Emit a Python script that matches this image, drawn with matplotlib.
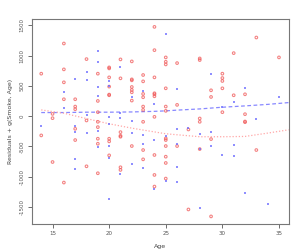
import numpy as np
import matplotlib.pyplot as plt

# 部分残差 (赤: 丸, 青: 点)
red_age = [14, 14, 15, 15, 15, 16, 16, 16, 16, 16, 17, 17, 17, 17, 17, 18, 18, 18,
           19, 19, 19, 19, 19, 19, 19, 19, 20, 20, 20, 20, 20, 20, 20, 20, 20,
           21, 21, 21, 21, 21, 21, 21, 22, 22, 22, 22, 22, 22, 22, 22,
           23, 23, 23, 23, 23, 23, 23, 23, 23,
           24, 24, 24, 24, 24, 24, 24, 24, 24, 24,
           25, 25, 25, 25, 25, 25, 25, 25, 25, 25, 25, 25,
           26, 26, 26, 27, 27, 28, 28, 28, 28, 28, 29, 29, 29, 29,
           30, 30, 30, 30, 30, 31, 31, 32, 32, 32, 32, 33, 33, 35]
red_res = [703, -318, 38, -33, -758, 1202, 774, 560, 280, -1098, 280, 159, 115, -209, -395,
           944, -71, -829,
           703, 252, 66, -93, -181, -373, -456, -944,
           807, 790, 642, 489, 357, 346, -373, -417, -648,
           939, 626, -264, -324, -340, -845, -889,
           906, 609, 593, 483, 434, 395, 258, -494,
           681, 576, 368, 313, 159, 104, -93, -560, -714,
           1477, 1092, 642, 379, 362, 329, -11, -642, -972, -1164,
           972, 900, 856, 461, 159, 88, -368, -395, -494, -670, -774, -1032,
           878, 187, -494, -220, -1543, 955, 928, -38, -93, -544, 428, 318, -379, -1658,
           703, 631, 582, 461, 66, 1043, 346, 362, 33, -88, -99, 1301, -560, 972]

blue_age = [14, 16, 16, 17, 17, 17, 17, 17, 18, 18, 18, 18,
            19, 19, 19, 19, 19, 19, 20, 20, 20, 20, 20, 20, 20,
            21, 21, 21, 21, 22, 22, 22, 22, 23, 23, 23, 23, 24, 24, 24,
            25, 25, 25, 26, 26, 26, 26, 26, 27, 28, 28, 28, 29, 29, 29,
            30, 30, 31, 31, 31, 32, 32, 33, 34, 35]
blue_res = [-159, 401, 132, 615, -165, -264, -703, -873, 736, 598, 22, -280,
            1081, 895, 478, 340, -253, -516, 576, 500, -16, -132, -500, -692, -1367,
            807, 49, -33, -950, 324, -88, -280, -791, 417, -318, -461, -862, 198, -395, -1202,
            1351, -324, -1076, 445, -214, -461, -845, -1087, -198, -296, -538, -1515, 692, -269, -494,
            159, -648, 231, -472, -659, 472, -1263, -49, -1449, 313]

# 平滑曲線 (目視で読み取り)
blue_line_age = [14, 16, 18, 20, 22, 24, 25, 26, 28, 30, 32, 34, 35.86]
blue_line_val = [60, 60, 66, 66, 70, 80, 88, 100, 120, 148, 170, 195, 225]
red_line_age = [14, 16, 18, 20, 22, 25, 28, 30, 32, 34, 35.86]
red_line_val = [104, 49, -40, -126, -198, -291, -340, -340, -335, -280, -225]

yticks = [1500, 1000, 500, 0, -500, -1000, -1500]
xticks = [15, 20, 25, 30, 35]

fig = plt.figure(figsize=(3.05, 2.49), dpi=100)
ax = fig.add_axes([0.104, 0.1004, 0.8426, 0.8221])

ax.scatter(red_age, red_res, s=3.5, facecolors='none', edgecolors='#f05a5a',
           linewidths=0.8, alpha=0.75, zorder=3)
ax.scatter(blue_age, blue_res, s=2, marker='s', color='#6a6aff', linewidths=0,
           alpha=0.75, zorder=3)
ax.plot(blue_line_age, blue_line_val, color='#6060ff', lw=0.9, ls=(0, (3, 2)), alpha=0.75)
ax.plot(red_line_age, red_line_val, color='#ffa8a8', lw=0.9, ls=(0, (1, 1.5)))

lo, hi = 14, 35
ax.set_xlim(lo - 0.04 * (hi - lo), hi + 0.04 * (hi - lo) + 0.02)
ylo, yhi = min(red_res + blue_res), max(red_res + blue_res)
ax.set_ylim(ylo - 0.04 * (yhi - ylo), yhi + 0.04 * (yhi - ylo))

ax.set_xticks(xticks)
ax.set_yticks(yticks)
ax.set_yticklabels([str(v) for v in yticks], rotation=90, va='center')
ax.tick_params(labelsize=4, length=3, width=0.6, color='#555555', labelcolor='#555555', pad=2)
for s in ax.spines.values():
    s.set_color('#777777')
    s.set_linewidth(0.8)

ax.set_xlabel('Age', fontsize=4.5, color='#444444', labelpad=6)
ax.set_ylabel('Residuals + g(Smoke, Age)', fontsize=4.5, color='#444444', labelpad=5)

fig.savefig('out.png', dpi=100)
